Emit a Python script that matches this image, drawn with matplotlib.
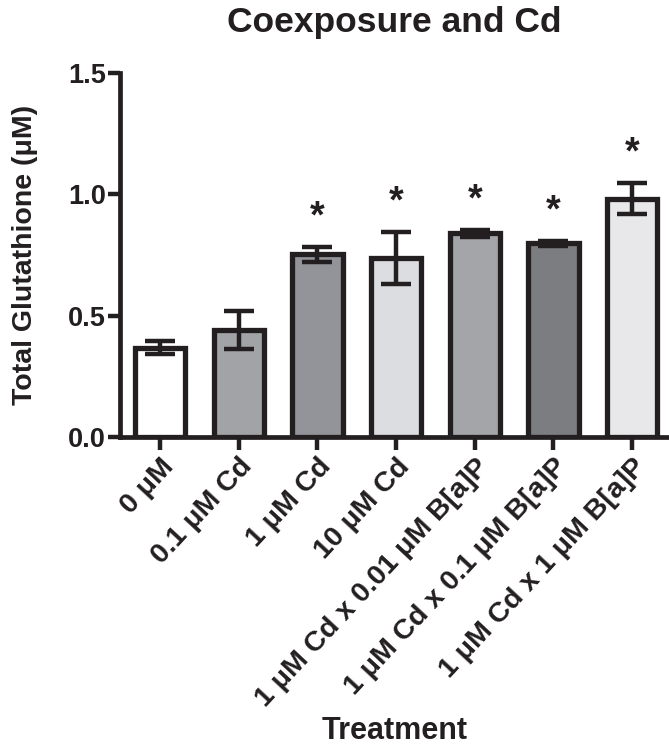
import matplotlib
matplotlib.use("Agg")
import matplotlib.pyplot as plt

plt.rcParams['font.family'] = ['Liberation Sans', 'DejaVu Sans']
plt.rcParams['font.weight'] = 'bold'

categories = ["0 μM", "0.1 μM Cd", "1 μM Cd", "10 μM Cd",
              "1 μM Cd x 0.01 μM B[a]P", "1 μM Cd x 0.1 μM B[a]P",
              "1 μM Cd x 1 μM B[a]P"]
means = [0.368, 0.440, 0.752, 0.738, 0.838, 0.798, 0.982]
errors = [0.026, 0.077, 0.030, 0.107, 0.015, 0.010, 0.065]
significant = [False, False, True, True, True, True, True]
colors = ["#ffffff", "#a2a3a7", "#939499", "#dcdde0", "#a4a5a9", "#7c7d81", "#e8e8ea"]

fig = plt.figure(figsize=(6.69, 7.52), dpi=100)
ax = fig.add_axes([0.1794, 0.4189, 0.8206, 0.4844])

x = list(range(len(categories)))
ax.bar(x, means, width=0.64, color=colors, edgecolor="#231f20", linewidth=3.8, zorder=2)
ax.errorbar(x, means, yerr=errors, fmt='none', ecolor="#231f20", elinewidth=3.2,
            capsize=10.5, capthick=3.2, zorder=3)

for xi, m, e, s in zip(x, means, errors, significant):
    if s:
        ax.annotate("*", xy=(xi, m + e), xytext=(0, 8), textcoords='offset points',
                    ha='center', va='bottom', fontsize=27, fontweight='bold', color="#231f20")

ax.set_ylim(0, 1.5)
ax.set_xlim(-0.51, 6.47)
ax.set_yticks([0.0, 0.5, 1.0, 1.5])
ax.set_yticklabels(["0.0", "0.5", "1.0", "1.5"])
ax.set_xticks(x)
ax.set_xticklabels(categories, rotation=47, ha='right', rotation_mode='anchor')

for side in ['top', 'right']:
    ax.spines[side].set_visible(False)
for side in ['left', 'bottom']:
    ax.spines[side].set_linewidth(3.4)
    ax.spines[side].set_color("#231f20")

ax.tick_params(axis='both', length=9, width=3.2, color="#231f20", labelcolor="#231f20")
ax.tick_params(axis='y', labelsize=19.5, pad=1)
ax.tick_params(axis='x', labelsize=20.5, pad=3)

ax.set_ylabel("Total Glutathione (μM)", fontsize=20.5, fontweight='bold', color="#231f20", labelpad=22)
fig.text(0.1794 + 0.8206 / 2, 1 - 739 / 752, "Treatment", ha='center', va='baseline',
         fontsize=22, fontweight='bold', color="#231f20")
ax.set_title("Coexposure and Cd", fontsize=25.5, fontweight='bold', color="#231f20", pad=29)

fig.savefig("out.png", dpi=100)
